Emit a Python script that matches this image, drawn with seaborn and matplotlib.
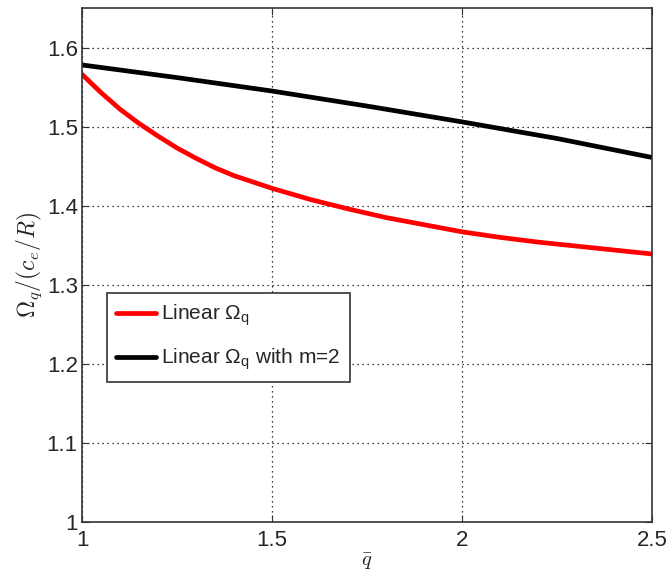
import numpy as np
import pandas as pd
import seaborn as sns
import matplotlib
matplotlib.use("Agg")
import matplotlib.pyplot as plt

# values
q_red = [1.0, 1.05, 1.1, 1.15, 1.2, 1.25, 1.3, 1.35, 1.4, 1.45, 1.5,
         1.6, 1.7, 1.8, 1.9, 2.0, 2.1, 2.2, 2.3, 2.4, 2.5]
omega_red = [1.566, 1.543, 1.522, 1.504, 1.488, 1.473, 1.460, 1.448, 1.438, 1.430, 1.422,
             1.408, 1.396, 1.385, 1.376, 1.367, 1.360, 1.354, 1.349, 1.344, 1.339]
q_black = [1.0, 1.25, 1.5, 1.75, 2.0, 2.25, 2.5]
omega_black = [1.578, 1.562, 1.545, 1.526, 1.506, 1.485, 1.461]

labels = [r'Linear $\mathregular{\Omega_q}$', r'Linear $\mathregular{\Omega_q}$ with m=2']

df = pd.concat([
    pd.DataFrame({'q': q_red, 'omega': omega_red, 'case': labels[0]}),
    pd.DataFrame({'q': q_black, 'omega': omega_black, 'case': labels[1]}),
])

sns.set_style("ticks")
plt.rcParams['font.family'] = ['Liberation Sans', 'DejaVu Sans']
plt.rcParams['mathtext.fontset'] = 'cm'

fig = plt.figure(figsize=(6.68, 5.75), dpi=100)
ax = fig.add_axes([0.1228, 0.092, 0.8533, 0.8941])
sns.lineplot(data=df, x='q', y='omega', hue='case', palette=['#ff0000', '#000000'],
             linewidth=3.4, ax=ax)

ax.set_xlim(1, 2.5)
ax.set_ylim(1, 1.65)
ax.set_xticks([1, 1.5, 2, 2.5])
ax.set_xticklabels(['1', '1.5', '2', '2.5'])
ax.set_yticks([1, 1.1, 1.2, 1.3, 1.4, 1.5, 1.6])
ax.set_yticklabels(['1', '1.1', '1.2', '1.3', '1.4', '1.5', '1.6'])
ax.tick_params(direction='in', labelsize=16, length=5, top=True, right=True, color='#333333')
ax.tick_params(axis='x', pad=6)
ax.tick_params(axis='y', pad=3)
ax.grid(True, linestyle=(0, (1, 3)), color='black', linewidth=0.9)
for s in ax.spines.values():
    s.set_color('#333333')
    s.set_linewidth(1.2)

ax.set_xlabel(r'$\bar{q}$', fontsize=15, labelpad=0)
ax.set_ylabel(r'$\Omega_q/(c_e/R)$', fontsize=17, labelpad=2)

leg = ax.legend(loc='upper left', bbox_to_anchor=(0.044, 0.445), borderaxespad=0,
                fontsize=15, fancybox=False, framealpha=1, edgecolor='#333333',
                handlelength=1.9, handletextpad=0.25, borderpad=0.45, labelspacing=0.9)
leg.get_frame().set_linewidth(1.2)

fig.savefig("out.png", dpi=100)
